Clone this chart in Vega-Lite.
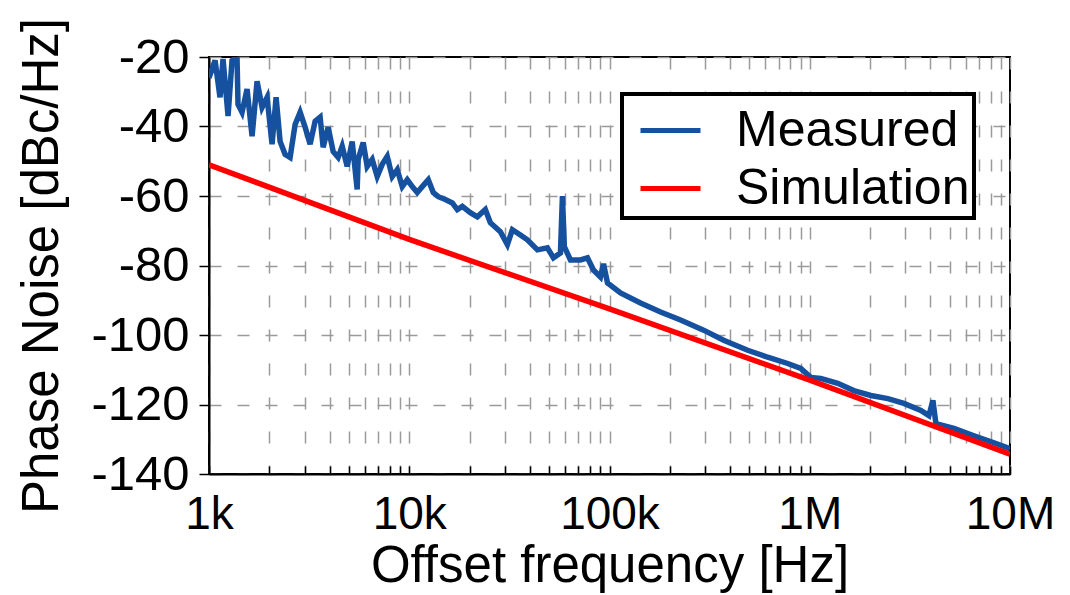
{
  "$schema": "https://vega.github.io/schema/vega-lite/v6.json",
  "width": 801,
  "height": 417,
  "autosize": {"type": "none"},
  "padding": {"left": 209, "top": 57, "right": 60, "bottom": 121},
  "background": "white",
  "config": {
    "font": "Liberation Sans",
    "view": {"stroke": "black", "strokeWidth": 2},
    "legend": {"strokeWidth": 4},
    "axis": {
      "domainColor": "black",
      "domainWidth": 2,
      "tickColor": "black",
      "tickWidth": 1.5,
      "labelColor": "black",
      "titleColor": "black",
      "labelFont": "Liberation Sans",
      "titleFont": "Liberation Sans",
      "labelFontSize": 46,
      "titleFontSize": 51,
      "titleFontWeight": "normal",
      "gridColor": "#9a9a9a",
      "gridWidth": 1.5,
      "gridOpacity": 1
    }
  },
  "data": {
    "values": [
      {"f": 1000, "pn": -26, "s": "Measured"},
      {"f": 1072, "pn": -21, "s": "Measured"},
      {"f": 1135, "pn": -31.6, "s": "Measured"},
      {"f": 1175, "pn": -20.6, "s": "Measured"},
      {"f": 1245, "pn": -37, "s": "Measured"},
      {"f": 1303, "pn": -21, "s": "Measured"},
      {"f": 1380, "pn": -20, "s": "Measured"},
      {"f": 1396, "pn": -33.6, "s": "Measured"},
      {"f": 1462, "pn": -35.9, "s": "Measured"},
      {"f": 1549, "pn": -29.2, "s": "Measured"},
      {"f": 1641, "pn": -42.8, "s": "Measured"},
      {"f": 1738, "pn": -27, "s": "Measured"},
      {"f": 1841, "pn": -34.5, "s": "Measured"},
      {"f": 1950, "pn": -31.6, "s": "Measured"},
      {"f": 2065, "pn": -45.1, "s": "Measured"},
      {"f": 2163, "pn": -31.6, "s": "Measured"},
      {"f": 2265, "pn": -44.3, "s": "Measured"},
      {"f": 2399, "pn": -48, "s": "Measured"},
      {"f": 2541, "pn": -48.9, "s": "Measured"},
      {"f": 2692, "pn": -39.4, "s": "Measured"},
      {"f": 2851, "pn": -35.9, "s": "Measured"},
      {"f": 3020, "pn": -40.2, "s": "Measured"},
      {"f": 3199, "pn": -45.1, "s": "Measured"},
      {"f": 3388, "pn": -38.5, "s": "Measured"},
      {"f": 3589, "pn": -37.3, "s": "Measured"},
      {"f": 3715, "pn": -46, "s": "Measured"},
      {"f": 3936, "pn": -40.2, "s": "Measured"},
      {"f": 4169, "pn": -47.2, "s": "Measured"},
      {"f": 4416, "pn": -48.9, "s": "Measured"},
      {"f": 4624, "pn": -45.7, "s": "Measured"},
      {"f": 4898, "pn": -51.5, "s": "Measured"},
      {"f": 5188, "pn": -44.3, "s": "Measured"},
      {"f": 5495, "pn": -58.1, "s": "Measured"},
      {"f": 5559, "pn": -49.5, "s": "Measured"},
      {"f": 5888, "pn": -44.6, "s": "Measured"},
      {"f": 6166, "pn": -51.5, "s": "Measured"},
      {"f": 6531, "pn": -49.5, "s": "Measured"},
      {"f": 6918, "pn": -54.4, "s": "Measured"},
      {"f": 7328, "pn": -50.9, "s": "Measured"},
      {"f": 7762, "pn": -48.6, "s": "Measured"},
      {"f": 8222, "pn": -54.4, "s": "Measured"},
      {"f": 8710, "pn": -52.4, "s": "Measured"},
      {"f": 9226, "pn": -57.3, "s": "Measured"},
      {"f": 9772, "pn": -55.3, "s": "Measured"},
      {"f": 10351, "pn": -57.3, "s": "Measured"},
      {"f": 10965, "pn": -59, "s": "Measured"},
      {"f": 11614, "pn": -57.3, "s": "Measured"},
      {"f": 12445, "pn": -55.3, "s": "Measured"},
      {"f": 13183, "pn": -59, "s": "Measured"},
      {"f": 13964, "pn": -60.2, "s": "Measured"},
      {"f": 15136, "pn": -61, "s": "Measured"},
      {"f": 16406, "pn": -62, "s": "Measured"},
      {"f": 17378, "pn": -63.9, "s": "Measured"},
      {"f": 18408, "pn": -63, "s": "Measured"},
      {"f": 20184, "pn": -64.8, "s": "Measured"},
      {"f": 21878, "pn": -66, "s": "Measured"},
      {"f": 23988, "pn": -63.9, "s": "Measured"},
      {"f": 25410, "pn": -67.7, "s": "Measured"},
      {"f": 28510, "pn": -70.3, "s": "Measured"},
      {"f": 30903, "pn": -74, "s": "Measured"},
      {"f": 32734, "pn": -69.7, "s": "Measured"},
      {"f": 35892, "pn": -71.2, "s": "Measured"},
      {"f": 38905, "pn": -72.6, "s": "Measured"},
      {"f": 43652, "pn": -75.5, "s": "Measured"},
      {"f": 48978, "pn": -74.9, "s": "Measured"},
      {"f": 52481, "pn": -77.8, "s": "Measured"},
      {"f": 56885, "pn": -76.4, "s": "Measured"},
      {"f": 58200, "pn": -60, "s": "Measured"},
      {"f": 59500, "pn": -74.6, "s": "Measured"},
      {"f": 63826, "pn": -78.4, "s": "Measured"},
      {"f": 71614, "pn": -78.4, "s": "Measured"},
      {"f": 77625, "pn": -77.8, "s": "Measured"},
      {"f": 83176, "pn": -81.3, "s": "Measured"},
      {"f": 90157, "pn": -83.3, "s": "Measured"},
      {"f": 93325, "pn": -79.5, "s": "Measured"},
      {"f": 97724, "pn": -85, "s": "Measured"},
      {"f": 113501, "pn": -87.9, "s": "Measured"},
      {"f": 142889, "pn": -90.8, "s": "Measured"},
      {"f": 179887, "pn": -93.4, "s": "Measured"},
      {"f": 226464, "pn": -95.7, "s": "Measured"},
      {"f": 295121, "pn": -98.6, "s": "Measured"},
      {"f": 371535, "pn": -101.5, "s": "Measured"},
      {"f": 489779, "pn": -104.4, "s": "Measured"},
      {"f": 616595, "pn": -106.4, "s": "Measured"},
      {"f": 776247, "pn": -108.2, "s": "Measured"},
      {"f": 901571, "pn": -109.6, "s": "Measured"},
      {"f": 1011579, "pn": -112.2, "s": "Measured"},
      {"f": 1135011, "pn": -112.5, "s": "Measured"},
      {"f": 1380384, "pn": -113.9, "s": "Measured"},
      {"f": 1659587, "pn": -116, "s": "Measured"},
      {"f": 2018366, "pn": -117.4, "s": "Measured"},
      {"f": 2454709, "pn": -118.3, "s": "Measured"},
      {"f": 2951209, "pn": -119.7, "s": "Measured"},
      {"f": 3589219, "pn": -121.7, "s": "Measured"},
      {"f": 3935501, "pn": -123.2, "s": "Measured"},
      {"f": 4120975, "pn": -118.8, "s": "Measured"},
      {"f": 4265795, "pn": -125.5, "s": "Measured"},
      {"f": 5248075, "pn": -126.9, "s": "Measured"},
      {"f": 6606934, "pn": -129, "s": "Measured"},
      {"f": 8317638, "pn": -131, "s": "Measured"},
      {"f": 10000000, "pn": -132.7, "s": "Measured"},
      {"f": 1000, "pn": -51, "s": "Simulation"},
      {"f": 10000, "pn": -72.5, "s": "Simulation"},
      {"f": 100000, "pn": -92.5, "s": "Simulation"},
      {"f": 1000000, "pn": -113, "s": "Simulation"},
      {"f": 10000000, "pn": -134.3, "s": "Simulation"}
    ]
  },
  "mark": {"type": "line", "strokeWidth": 5.5, "clip": true},
  "encoding": {
    "x": {
      "field": "f",
      "type": "quantitative",
      "scale": {"type": "log", "domain": [1000, 10000000], "nice": false},
      "axis": {
        "title": "Offset frequency [Hz]",
        "titlePadding": 4,
        "values": [1000, 2000, 3000, 4000, 5000, 6000, 7000, 8000, 9000, 10000, 20000, 30000, 40000, 50000, 60000, 70000, 80000, 90000, 100000, 200000, 300000, 400000, 500000, 600000, 700000, 800000, 900000, 1000000, 2000000, 3000000, 4000000, 5000000, 6000000, 7000000, 8000000, 9000000, 10000000],
        "labelExpr": "datum.value==1000?'1k':datum.value==10000?'10k':datum.value==100000?'100k':datum.value==1000000?'1M':datum.value==10000000?'10M':''",
        "labelFlush": false,
        "labelOverlap": false,
        "tickSize": -8,
        "labelPadding": 26,
        "gridDash": [12, 22]
      }
    },
    "y": {
      "field": "pn",
      "type": "quantitative",
      "scale": {"domain": [-140, -20], "nice": false, "zero": false},
      "axis": {
        "title": "Phase Noise [dBc/Hz]",
        "titlePadding": 22,
        "values": [-20, -40, -60, -80, -100, -120, -140],
        "labelExpr": "datum.value + ''",
        "labelFontSize": 49,
        "labelFlush": false,
        "labelOverlap": false,
        "tickSize": 10,
        "labelPadding": 10,
        "gridDash": [12, 16]
      }
    },
    "color": {
      "field": "s",
      "type": "nominal",
      "scale": {"domain": ["Measured", "Simulation"], "range": ["#15519f", "#ff0000"]},
      "legend": {
        "title": null,
        "orient": "none",
        "legendX": 413,
        "legendY": 37,
        "fillColor": "white",
        "strokeColor": "black",
        "padding": 4,
        "symbolType": "stroke",
        "symbolSize": 3600,
        "symbolStrokeWidth": 5,
        "symbolOffset": 12,
        "labelFontSize": 50,
        "labelFont": "Liberation Sans",
        "labelColor": "black",
        "labelLimit": 0,
        "labelOffset": 33,
        "rowPadding": -5
      }
    }
  }
}
